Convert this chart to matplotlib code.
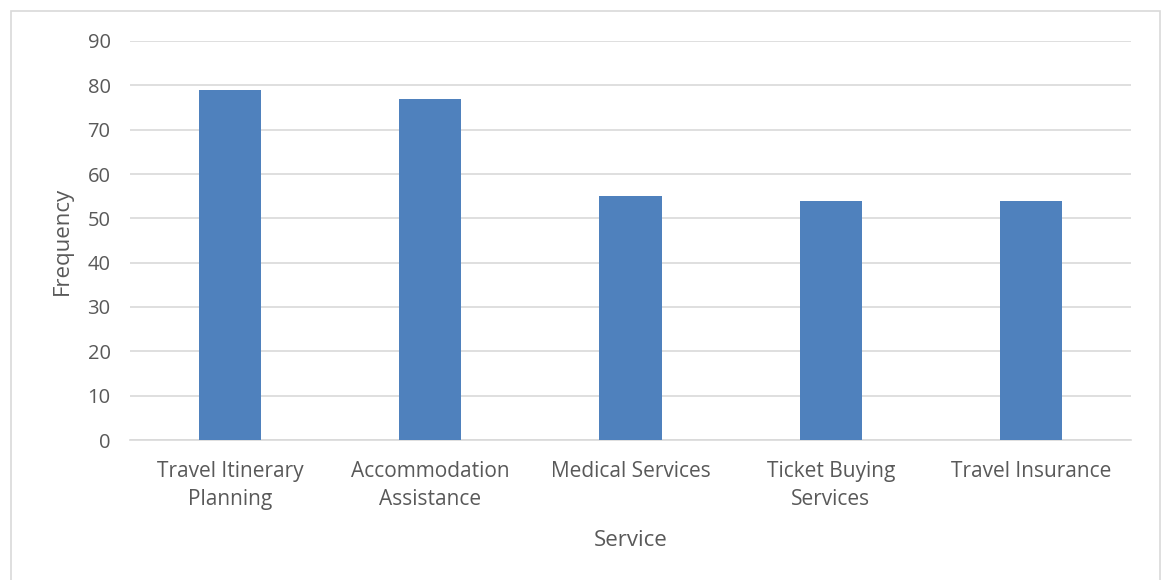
import matplotlib.pyplot as plt
from matplotlib.patches import Rectangle

services = ["Travel Itinerary\nPlanning", "Accommodation\nAssistance", "Medical Services",
            "Ticket Buying\nServices", "Travel Insurance"]
frequency = [79, 77, 55, 54, 54]
yticks = [0, 10, 20, 30, 40, 50, 60, 70, 80, 90]

text_color = "#595959"
plt.rcParams['font.family'] = ['Open Sans', 'DejaVu Sans']

fig = plt.figure(figsize=(11.64, 5.8), dpi=100)
ax = fig.add_axes([130 / 1164, 1 - 440 / 580, 1001 / 1164, 399 / 580])

# light chart-area border like the original
fig.patches.append(Rectangle((11 / 1164, -0.05), 1149 / 1164, 1 - 11 / 580 + 0.05,
                             transform=fig.transFigure, fill=False,
                             edgecolor="#D9D9D9", linewidth=1.2))

ax.bar(range(len(services)), frequency, width=0.31, color="#4F81BD", zorder=3)
ax.set_xlim(-0.5, len(services) - 0.5)
ax.set_ylim(0, 90)
ax.set_yticks(yticks)
ax.set_xticks(range(len(services)))
ax.set_xticklabels(services, fontsize=15, color=text_color, linespacing=1.42)
ax.tick_params(axis="y", labelsize=14.5, labelcolor=text_color, length=0, pad=14)
ax.tick_params(axis="x", length=0, pad=15)
ax.yaxis.grid(True, color="#D9D9D9", linewidth=1.2, zorder=0)
for s in ["top", "right", "left"]:
    ax.spines[s].set_visible(False)
ax.spines["bottom"].set_color("#D9D9D9")
ax.spines["bottom"].set_linewidth(1.2)

ax.set_xlabel("Service", fontsize=16, color=text_color, va="center")
ax.set_ylabel("Frequency", fontsize=16, color=text_color, va="center", ha="center")
ax.xaxis.set_label_coords(0.5, -100 / 399)
ax.yaxis.set_label_coords(-68 / 1001, 0.5)

fig.savefig("out.png", dpi=100)
